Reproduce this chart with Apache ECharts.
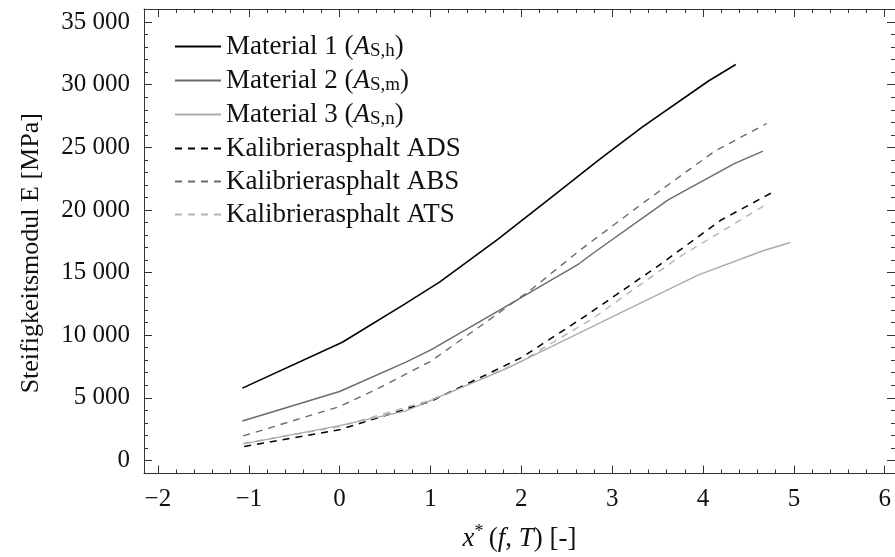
<!DOCTYPE html>
<html>
<head>
<meta charset="utf-8">
<script src="https://cdn.jsdelivr.net/npm/echarts@6/dist/echarts.min.js"></script>
<style>
  html, body { margin: 0; padding: 0; background: #ffffff; }
  #chart { width: 895px; height: 557px; }
</style>
</head>
<body>
<div id="chart"></div>
<script>
// Master curves of the stiffness modulus E [MPa] over the reduced variable x*(f, T)
const material1X = [-1.07, 0.03, 0.72, 1.10, 1.74, 2.32, 2.85, 3.33, 4.06, 4.36];
const material1E = [5770, 9430, 12500, 14230, 17650, 20950, 23980, 26620, 30300, 31620];

const material2X = [-1.07, 0.00, 0.73, 1.00, 1.79, 2.63, 2.82, 3.62, 4.35, 4.66];
const material2E = [3140, 5500, 7850, 8800, 12120, 15680, 16700, 20820, 23720, 24690];

const material3X = [-1.06, 0.00, 0.73, 1.83, 2.63, 3.00, 3.95, 4.66, 4.96];
const material3E = [1320, 2770, 3950, 7300, 10140, 11460, 14810, 16740, 17400];

const adsX = [-1.05, 0.00, 1.00, 2.00, 2.70, 3.50, 4.20, 4.75];
const adsE = [1100, 2450, 4700, 8200, 11500, 15500, 19200, 21350];

const absX = [-1.06, 0.00, 0.44, 1.00, 1.54, 2.12, 2.63, 3.33, 4.13, 4.70];
const absE = [1950, 4300, 5800, 7900, 10670, 13700, 16700, 20500, 24700, 26900];

const atsX = [-1.06, 0.00, 1.00, 2.00, 2.78, 3.73, 4.72];
const atsE = [1350, 2700, 4800, 7900, 11300, 16200, 20550];

const seriesNames = [
  'Material 1', 'Material 2', 'Material 3',
  'Kalibrierasphalt ADS', 'Kalibrierasphalt ABS', 'Kalibrierasphalt ATS'
];
const legendTexts = [
  'Material 1 ({it|A}{sub|S,h})',
  'Material 2 ({it|A}{sub|S,m})',
  'Material 3 ({it|A}{sub|S,n})',
  'Kalibrierasphalt ADS',
  'Kalibrierasphalt ABS',
  'Kalibrierasphalt ATS'
];

// Axis ticks
const xTickValues = [-2, -1, 0, 1, 2, 3, 4, 5, 6];
const yTickValues = [0, 5000, 10000, 15000, 20000, 25000, 30000, 35000];
const xMinorStep = 0.2;
const yMinorStep = 1000;

const xMinorValues = [];
for (let v = -2; v <= 6.0001; v += xMinorStep) xMinorValues.push(Math.round(v * 10) / 10);
const yMinorValues = [];
for (let v = -1000; v <= 36000; v += yMinorStep) yMinorValues.push(v);

const X_MIN = -2.153, X_MAX = 6.113;
const Y_MIN = -1050, Y_MAX = 36050;

const FONT = '"Liberation Serif", "DejaVu Serif", serif';
const FRAME = '#333333';
const TEXT = '#111111';

function pairs(xs, ys) { return xs.map((x, i) => [x, ys[i]]); }
function fmtX(v) { return v < 0 ? '\u2212' + Math.abs(v) : String(v); }
function fmtY(v) { return String(v).replace(/\B(?=(\d{3})+(?!\d))/g, ' '); }

function xAxisDef(position, values, len, withLine, withLabels) {
  return {
    type: 'value', position: position, min: X_MIN, max: X_MAX,
    axisLine: { show: withLine, onZero: false, lineStyle: { color: FRAME, width: 1 } },
    axisTick: { show: true, inside: true, length: len, customValues: values,
                lineStyle: { color: FRAME, width: 1 } },
    axisLabel: { show: withLabels, customValues: values, formatter: fmtX,
                 fontFamily: FONT, fontSize: 25, color: TEXT, margin: 13 },
    splitLine: { show: false }
  };
}
function yAxisDef(position, values, len, withLine, withLabels) {
  return {
    type: 'value', position: position, min: Y_MIN, max: Y_MAX,
    axisLine: { show: withLine, onZero: false, lineStyle: { color: FRAME, width: 1 } },
    axisTick: { show: true, inside: true, length: len, customValues: values,
                lineStyle: { color: FRAME, width: 1 } },
    axisLabel: { show: withLabels, customValues: values, formatter: fmtY,
                 fontFamily: FONT, fontSize: 25, color: TEXT, margin: 14 },
    splitLine: { show: false }
  };
}

const xAxes = [
  xAxisDef('bottom', xTickValues, 8, true, true),
  xAxisDef('bottom', xMinorValues, 4, false, false),
  xAxisDef('top', xTickValues, 8, true, false),
  xAxisDef('top', xMinorValues, 4, false, false)
];
xAxes[0].name = '{it|x}{sup|*}\u2009({it|f}, {it|T}) [-]';
xAxes[0].nameLocation = 'middle';
xAxes[0].nameGap = 50;
xAxes[0].nameTextStyle = {
  fontFamily: FONT, fontSize: 27, color: TEXT,
  rich: {
    it: { fontFamily: FONT, fontSize: 27, fontStyle: 'italic', color: TEXT },
    sup: { fontFamily: FONT, fontSize: 18, color: TEXT, padding: [0, 0, 12, 0] }
  }
};

const yAxes = [
  yAxisDef('left', yTickValues, 8, true, true),
  yAxisDef('left', yMinorValues, 4, false, false),
  yAxisDef('right', yTickValues, 8, true, false),
  yAxisDef('right', yMinorValues, 4, false, false)
];
yAxes[0].name = 'Steifigkeitsmodul E [MPa]';
yAxes[0].nameLocation = 'middle';
yAxes[0].nameGap = 100;
yAxes[0].nameTextStyle = { fontFamily: FONT, fontSize: 26, color: TEXT, padding: [0, 24, 0, 0] };

const styles = [
  { color: '#000000', width: 1.6, type: 'solid' },
  { color: '#6a6a6a', width: 1.4, type: 'solid' },
  { color: '#ababab', width: 1.4, type: 'solid' },
  { color: '#000000', width: 1.5, type: [7, 6] },
  { color: '#6a6a6a', width: 1.4, type: [7, 6] },
  { color: '#b3b3b3', width: 1.4, type: [7, 6] }
];
const dataSets = [
  pairs(material1X, material1E),
  pairs(material2X, material2E),
  pairs(material3X, material3E),
  pairs(adsX, adsE),
  pairs(absX, absE),
  pairs(atsX, atsE)
];

const series = seriesNames.map((name, i) => ({
  name: name,
  type: 'line',
  xAxisIndex: 0,
  yAxisIndex: 0,
  data: dataSets[i],
  symbol: 'none',
  smooth: false,
  lineStyle: styles[i],
  itemStyle: { color: styles[i].color },
  z: 10 - i,
  animation: false
}));

const chart = echarts.init(document.getElementById('chart'), null, { renderer: 'canvas' });
chart.setOption({
  animation: false,
  backgroundColor: '#ffffff',
  grid: { left: 144, right: -2, top: 9, bottom: 79, containLabel: false },
  xAxis: xAxes,
  yAxis: yAxes,
  legend: {
    orient: 'vertical',
    left: 174,
    top: 33,
    itemWidth: 46,
    itemHeight: 14,
    itemGap: 6,
    padding: 0,
    data: seriesNames,
    itemStyle: { opacity: 0 },
    formatter: name => legendTexts[seriesNames.indexOf(name)],
    textStyle: {
      fontFamily: FONT, fontSize: 27, color: TEXT,
      rich: {
        it: { fontFamily: FONT, fontSize: 27, fontStyle: 'italic', color: TEXT },
        sub: { fontFamily: FONT, fontSize: 19, color: TEXT, padding: [10, 0, 0, 0] }
      }
    }
  },
  series: series
});
</script>
</body>
</html>
